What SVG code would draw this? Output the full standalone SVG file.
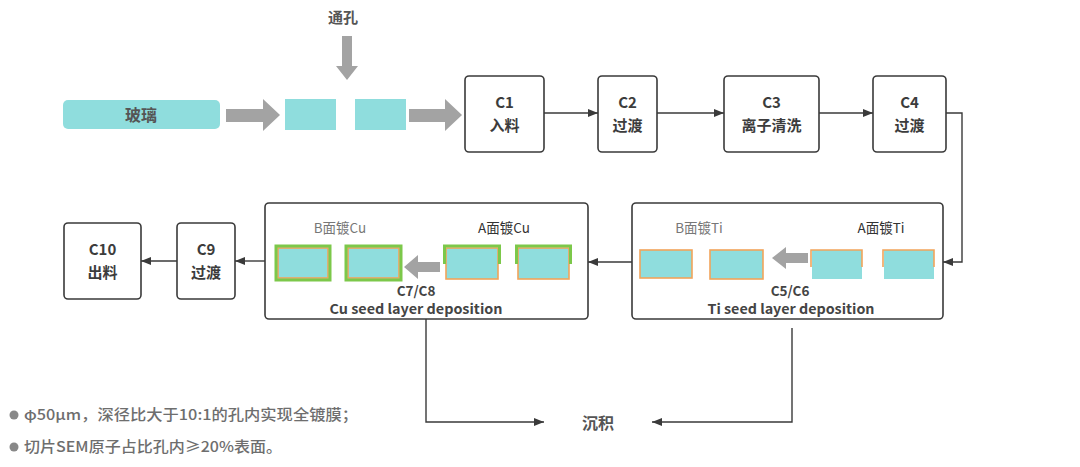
<svg xmlns="http://www.w3.org/2000/svg" width="1080" height="467" viewBox="0 0 1080 467">
<defs>
<style>
.box{fill:#fff;stroke:#3a3a3a;stroke-width:1.6}
.grp{fill:#fff;stroke:#3a3a3a;stroke-width:1.6}
.lbl{font-family:"Noto Sans CJK SC","Noto Sans",sans-serif;font-weight:bold;font-size:15px;fill:#3c3c3c;text-anchor:middle}
.sub{font-family:"Noto Sans CJK SC","Noto Sans",sans-serif;font-weight:bold;font-size:13.5px;fill:#444;text-anchor:middle}
.side{font-family:"Noto Sans CJK SC","Noto Sans",sans-serif;font-size:13.5px;text-anchor:middle}
.note{font-family:"Noto Sans CJK SC","Noto Sans",sans-serif;font-weight:500;font-size:14.5px;fill:#6e6e6e}
.con{fill:none;stroke:#3a3a3a;stroke-width:1.4}
.teal{fill:#8FDDDD}
.org{fill:none;stroke:#F2A45A;stroke-width:1.6}
.grn{fill:none;stroke:#7CC84A;stroke-width:3}
.big{fill:#A3A3A3}
</style>
<marker id="ah" viewBox="0 0 10 10" refX="10" refY="5" markerWidth="10" markerHeight="10" markerUnits="userSpaceOnUse" orient="auto">
<path d="M0,1 L10,5 L0,9 Z" fill="#3a3a3a"/>
</marker>
</defs>
<rect width="1080" height="467" fill="#fff"/>

<g id="tongkong">
<text class="lbl" x="343" y="23" style="fill:#555">通孔</text>
<path class="big" d="M342,36 H352 V66 H358 L347,80 L336,66 H342 Z"/>
</g>

<g id="glass">
<rect x="63" y="100" width="157" height="29" rx="5" class="teal"/>
<text class="lbl" x="141" y="121" style="font-size:16px;fill:#555">玻璃</text>
</g>

<g id="big-arrows">
<path class="big" d="M226,109 H263 V99 L280,115 L263,131 V122 H226 Z"/>
<path class="big" d="M409,109 H445 V99 L462,115 L445,131 V122 H409 Z"/>
</g>

<g id="wafers-top">
<rect x="285" y="99" width="51" height="31" class="teal"/>
<rect x="355" y="99" width="51" height="31" class="teal"/>
</g>

<g id="C1"><rect class="box" x="465" y="76" width="79" height="76" rx="4"/><text class="lbl" x="504.5" y="108">C1</text><text class="lbl" x="504.5" y="131">入料</text></g>
<g id="C2"><rect class="box" x="598" y="76" width="59" height="76" rx="4"/><text class="lbl" x="627.5" y="108">C2</text><text class="lbl" x="627.5" y="131">过渡</text></g>
<g id="C3"><rect class="box" x="724" y="76" width="95" height="76" rx="4"/><text class="lbl" x="771.5" y="108">C3</text><text class="lbl" x="771.5" y="131">离子清洗</text></g>
<g id="C4"><rect class="box" x="873" y="76" width="73" height="76" rx="4"/><text class="lbl" x="909.5" y="108">C4</text><text class="lbl" x="909.5" y="131">过渡</text></g>

<g id="C5C6">
<rect class="grp" x="632" y="203" width="311" height="116" rx="4"/>
<text class="side" x="699" y="233" fill="#777">B面镀Ti</text>
<text class="side" x="881" y="233" fill="#333">A面镀Ti</text>
<rect x="640" y="250" width="52" height="28" class="teal"/><rect x="640" y="250" width="52" height="28" class="org"/>
<rect x="710" y="250" width="53" height="29" class="teal"/><rect x="710" y="250" width="53" height="29" class="org"/>
<path class="big" d="M808,253 H786 V247 L772,258 L786,269 V263 H808 Z"/>
<rect x="812" y="250" width="50" height="29" class="teal"/><path class="org" d="M811,267 V250 H862 V267"/>
<rect x="884" y="250" width="50" height="29" class="teal"/><path class="org" d="M883,267 V250 H934 V267"/>
<text class="sub" x="790" y="296">C5/C6</text>
<text class="sub" x="791" y="314" textLength="167" lengthAdjust="spacingAndGlyphs">Ti seed layer deposition</text>
</g>

<g id="C7C8">
<rect class="grp" x="265" y="203" width="323" height="116" rx="4"/>
<text class="side" x="340" y="233" fill="#777">B面镀Cu</text>
<text class="side" x="504" y="233" fill="#333">A面镀Cu</text>
<rect x="276" y="246" width="54" height="34" class="teal"/><rect x="278" y="248" width="50" height="30" class="org"/><rect x="276" y="246" width="54" height="34" class="grn"/>
<rect x="346" y="246" width="55" height="34" class="teal"/><rect x="348" y="248" width="51" height="30" class="org"/><rect x="346" y="246" width="55" height="34" class="grn"/>
<path class="big" d="M440,262 H418 V255 L404,267 L418,279 V272 H440 Z"/>
<rect x="446" y="248" width="52" height="31" class="teal"/><rect x="446" y="248" width="52" height="31" class="org"/><path class="grn" d="M444.5,264 V246 H499.5 V264"/>
<rect x="518" y="248" width="51" height="31" class="teal"/><rect x="518" y="248" width="51" height="31" class="org"/><path class="grn" d="M516.5,264 V246 H570.5 V264"/>
<text class="sub" x="416" y="296">C7/C8</text>
<text class="sub" x="416" y="314" textLength="173" lengthAdjust="spacingAndGlyphs">Cu seed layer deposition</text>
</g>

<g id="C9"><rect class="box" x="177" y="223" width="58" height="76" rx="4"/><text class="lbl" x="206" y="255">C9</text><text class="lbl" x="206" y="278">过渡</text></g>
<g id="C10"><rect class="box" x="64" y="223" width="77" height="76" rx="4"/><text class="lbl" x="102.5" y="255">C10</text><text class="lbl" x="102.5" y="278">出料</text></g>

<g id="deposit"><text class="lbl" x="598" y="429" style="font-size:16px;fill:#555">沉积</text></g>

<g id="connectors">
<path class="con" d="M544,113 H598" marker-end="url(#ah)"/>
<path class="con" d="M657,113 H724" marker-end="url(#ah)"/>
<path class="con" d="M819,113 H873" marker-end="url(#ah)"/>
<path class="con" d="M946,113 H962 V262 H943" marker-end="url(#ah)"/>
<path class="con" d="M632,262 H588" marker-end="url(#ah)"/>
<path class="con" d="M265,261 H235" marker-end="url(#ah)"/>
<path class="con" d="M177,261 H141" marker-end="url(#ah)"/>
<path class="con" d="M426,319 V422 H544" marker-end="url(#ah)"/>
<path class="con" d="M792,328 V422 H652" marker-end="url(#ah)"/>
</g>

<g id="notes">
<circle cx="14" cy="415" r="4.5" fill="#888"/>
<text class="note" x="24" y="420" textLength="334" lengthAdjust="spacingAndGlyphs">φ50μm，深径比大于10:1的孔内实现全镀膜；</text>
<circle cx="14" cy="447" r="4.5" fill="#888"/>
<text class="note" x="24" y="452" textLength="258" lengthAdjust="spacingAndGlyphs">切片SEM原子占比孔内≥20%表面。</text>
</g>
</svg>
